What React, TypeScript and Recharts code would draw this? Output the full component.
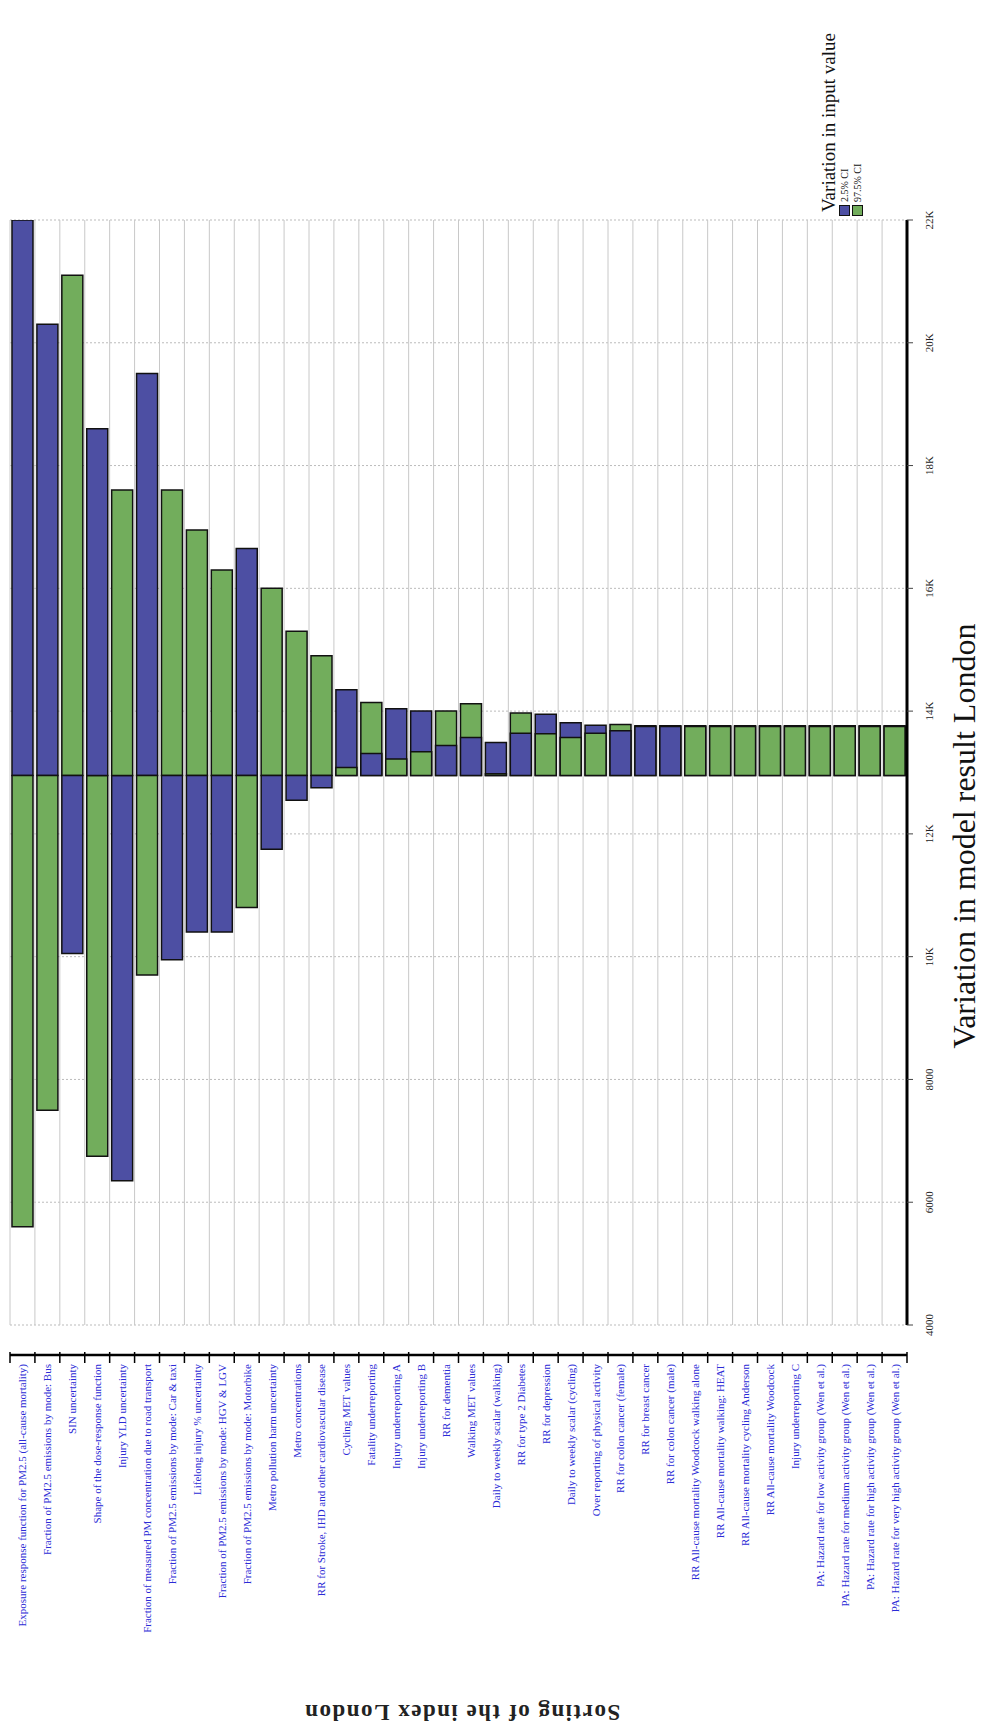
import React from 'react';
import { BarChart, Bar, XAxis, YAxis, CartesianGrid, Cell } from 'recharts';

const categories = [
  'Exposure response function for PM2.5 (all-cause mortality)',
  'Fraction of PM2.5 emissions by mode: Bus',
  'SIN uncertainty',
  'Shape of the dose-response function',
  'Injury YLD uncertainty',
  'Fraction of measured PM concentration due to road transport',
  'Fraction of PM2.5 emissions by mode: Car & taxi',
  'Lifelong injury % uncertainty',
  'Fraction of PM2.5 emissions by mode: HGV & LGV',
  'Fraction of PM2.5 emissions by mode: Motorbike',
  'Metro pollution harm uncertainty',
  'Metro concentrations',
  'RR for Stroke, IHD and other cardiovascular disease',
  'Cycling MET values',
  'Fatality underreporting',
  'Injury underreporting A',
  'Injury underreporting B',
  'RR for dementia',
  'Walking MET values',
  'Daily to weekly scalar (walking)',
  'RR for type 2 Diabetes',
  'RR for depression',
  'Daily to weekly scalar (cycling)',
  'Over reporting of physical activity',
  'RR for colon cancer (female)',
  'RR for breast cancer',
  'RR for colon cancer (male)',
  'RR All-cause mortality Woodcock walking alone',
  'RR All-cause mortality walking: HEAT',
  'RR All-cause mortality cycling Anderson',
  'RR All-cause mortality Woodcock',
  'Injury underreporting C',
  'PA: Hazard rate for low activity group (Wen et al.)',
  'PA: Hazard rate for medium activity group (Wen et al.)',
  'PA: Hazard rate for high activity group (Wen et al.)',
  'PA: Hazard rate for very high activity group (Wen et al.)',
];

// 2.5% CI (blue)
const lowCI = [
  22000, 20300, 10050, 18600, 6350, 19500, 9950, 10400, 10400, 16650,
  11750, 12550, 12750, 14350, 13310, 14040, 14000, 13440, 13570, 13490,
  13640, 13950, 13810, 13770, 13680, 13750, 13750, 13760, 13760, 13760,
  13760, 13760, 13760, 13760, 13760, 13760,
];

// 97.5% CI (green)
const highCI = [
  5600, 7500, 21100, 6750, 17600, 9700, 17600, 16950, 16300, 10800,
  16000, 15300, 14900, 13080, 14140, 13220, 13340, 14000, 14120, 12980,
  13970, 13630, 13570, 13640, 13780, 13760, 13760, 13750, 13750, 13750,
  13750, 13750, 13750, 13750, 13750, 13750,
];

const baseValue = 12950;
const valueTicks = [4000, 6000, 8000, 10000, 12000, 14000, 16000, 18000, 20000, 22000];
const seriesNames = ['2.5% CI', '97.5% CI'];

const BLUE = '#4d4fa3';
const GREEN = '#72ad5c';
const LABEL_BLUE = '#2b2bd6';
const SERIF = "'Liberation Serif', 'Times New Roman', serif";

const rows = categories.map((name, i) => {
  const b = lowCI[i];
  const g = highCI[i];
  const blueBack = Math.abs(b - baseValue) >= Math.abs(g - baseValue);
  return {
    name,
    back: blueBack ? b : g,
    front: blueBack ? g : b,
    backFill: blueBack ? BLUE : GREEN,
    frontFill: blueBack ? GREEN : BLUE,
  };
});

const range = (v: number) => [Math.min(baseValue, v), Math.max(baseValue, v)];

const fmt = (v: number) => (v >= 10000 ? `${v / 1000}K` : `${v}`);

const CatTick = (props: any) => {
  const { x, y, payload } = props;
  const half = payload && payload.offset ? payload.offset : 897 / categories.length / 2;
  const idx = payload.index;
  const axisY = y - 8;
  return (
    <g>
      <line x1={x - half} y1={axisY - 3} x2={x - half} y2={axisY + 8} stroke="#000" strokeWidth={1.5} />
      {idx === categories.length - 1 ? (
        <line x1={x + half} y1={axisY - 3} x2={x + half} y2={axisY + 8} stroke="#000" strokeWidth={1.5} />
      ) : null}
      <text
        transform={`translate(${x},${axisY + 9}) rotate(-90)`}
        textAnchor="end"
        dominantBaseline="central"
        fontSize={11}
        fontFamily={SERIF}
        fill={LABEL_BLUE}
      >
        {payload.value}
      </text>
    </g>
  );
};

const ValTick = (props: any) => {
  const { x, y, payload } = props;
  return (
    <text
      transform={`translate(${x + 14},${y}) rotate(-90)`}
      textAnchor="middle"
      dominantBaseline="central"
      fontSize={11}
      fontFamily={SERIF}
      fill="#222"
    >
      {fmt(payload.value)}
    </text>
  );
};

export default function App() {
  return (
    <div style={{ position: 'absolute', left: 0, top: 0, width: 984, height: 1735, background: '#fff' }}>
      <BarChart
        width={984}
        height={1735}
        data={rows}
        margin={{ top: 220, right: 0, left: 10, bottom: 0 }}
        barCategoryGap="8%"
      >
        <CartesianGrid xAxisId="main" vertical={false} stroke="#bbb" strokeDasharray="2 2" />
        <CartesianGrid
          xAxisId="main"
          horizontal={false}
          stroke="#c8c8c8"
          verticalCoordinatesGenerator={(p: any) => {
            const off = p.offset;
            return Array.from({ length: categories.length + 1 }, (_, i) => off.left + (i * off.width) / categories.length);
          }}
        />
        <XAxis
          xAxisId="main"
          dataKey="name"
          height={410}
          interval={0}
          tick={<CatTick />}
          tickLine={false}
          axisLine={{ stroke: '#000', strokeWidth: 2.5 }}
        />
        <XAxis xAxisId="front" dataKey="name" hide />
        <YAxis
          orientation="right"
          width={77}
          domain={[4000, 22000]}
          ticks={valueTicks}
          interval={0}
          allowDataOverflow
          tick={<ValTick />}
          tickSize={6}
          tickLine={{ stroke: '#444' }}
          axisLine={{ stroke: '#000', strokeWidth: 3 }}
        />
        <Bar xAxisId="main" dataKey={(d: any) => range(d.back)} stroke="#111" strokeWidth={1.5} isAnimationActive={false}>
          {rows.map((r, i) => (
            <Cell key={`b${i}`} fill={r.backFill} />
          ))}
        </Bar>
        <Bar xAxisId="front" dataKey={(d: any) => range(d.front)} stroke="#111" strokeWidth={1.5} isAnimationActive={false}>
          {rows.map((r, i) => (
            <Cell key={`f${i}`} fill={r.frontFill} />
          ))}
        </Bar>
      </BarChart>

      {/* Legend (rotated as a block) */}
      <div
        style={{
          position: 'absolute',
          left: 820,
          top: 216,
          transformOrigin: '0 0',
          transform: 'rotate(-90deg)',
          fontFamily: SERIF,
          color: '#111',
          whiteSpace: 'nowrap',
        }}
      >
        <div style={{ fontSize: 19, lineHeight: '18px', paddingLeft: 4 }}>Variation in input value</div>
        {seriesNames.map((n, i) => (
          <div key={n} style={{ display: 'flex', alignItems: 'center', height: 13, fontSize: 10, lineHeight: '13px' }}>
            <span
              style={{
                display: 'inline-block',
                width: 9,
                height: 9,
                background: i === 0 ? BLUE : GREEN,
                border: '1px solid #111',
                marginRight: 3,
              }}
            />
            <span>{n}</span>
          </div>
        ))}
      </div>

      {/* Value axis title */}
      <div
        style={{
          position: 'absolute',
          left: 964,
          top: 836,
          transform: 'translate(-50%, -50%) rotate(-90deg)',
          whiteSpace: 'nowrap',
          fontFamily: SERIF,
          fontSize: 32,
          color: '#111',
        }}
      >
        Variation in model result London
      </div>

      {/* Category axis title (upside down) */}
      <div
        style={{
          position: 'absolute',
          left: 462,
          top: 1712,
          transform: 'translate(-50%, -50%) rotate(180deg)',
          whiteSpace: 'nowrap',
          fontFamily: SERIF,
          fontSize: 23,
          fontWeight: 'bold',
          letterSpacing: 1.5,
          color: '#222',
        }}
      >
        Sorting of the index London
      </div>
    </div>
  );
}
